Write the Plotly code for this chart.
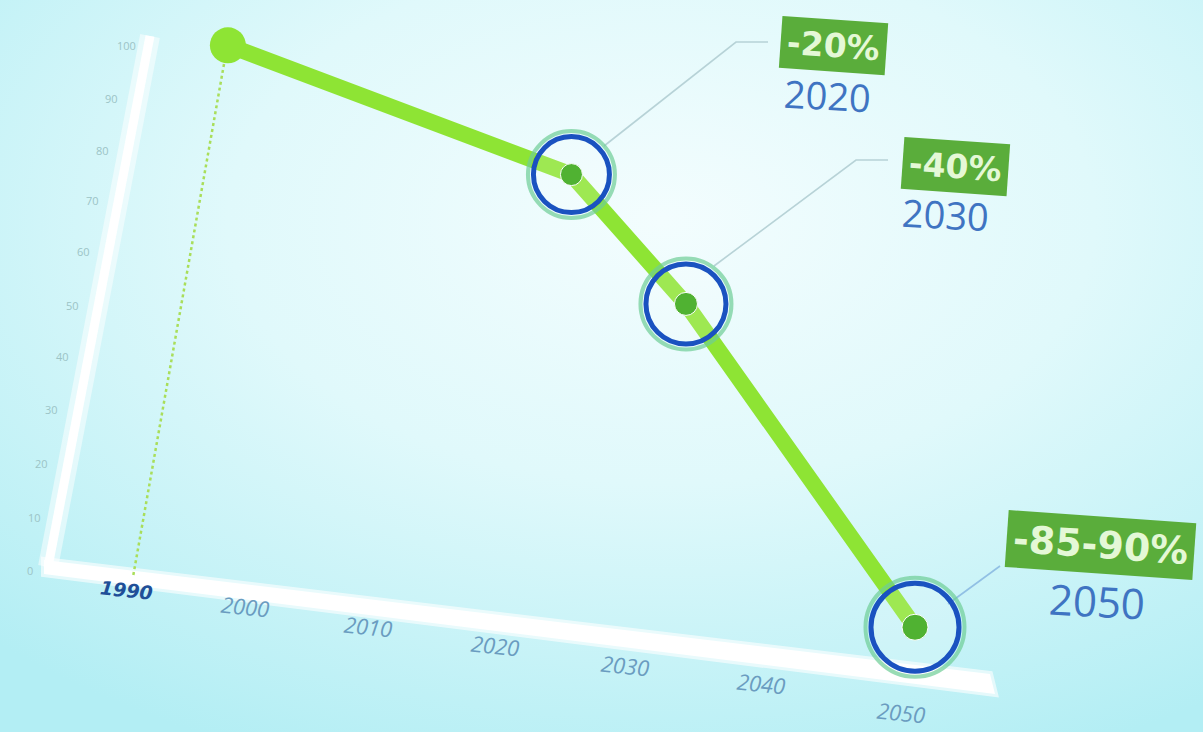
import base64
import plotly.graph_objects as go

# ---- data ----
years = [1990, 2020, 2030, 2050]
values = [100, 80, 60, 10]
target_years = [2020, 2030, 2050]
target_values = [80, 60, 10]
target_pct = ["-20%", "-40%", "-85-90%"]
target_labels = ["2020", "2030", "2050"]
x_tick_labels = ["1990", "2000", "2010", "2020", "2030", "2040", "2050"]
y_tick_labels = ["0", "10", "20", "30", "40", "50", "60", "70", "80", "90", "100"]

W, H = 1203, 732


def P(x, y):
    """pixel -> paper coordinates (for decorative layout items)"""
    return x / W, 1 - y / H


# ---- background gradient (svg image) ----
svg = (
    "<svg xmlns='http://www.w3.org/2000/svg' width='1203' height='732'>"
    "<defs><radialGradient id='g' cx='0.55' cy='0.3' r='0.8'>"
    "<stop offset='0' stop-color='#f3fdfe'/>"
    "<stop offset='0.45' stop-color='#e0f9fb'/>"
    "<stop offset='1' stop-color='#b3eef4'/>"
    "</radialGradient></defs>"
    "<rect width='1203' height='732' fill='url(#g)'/></svg>"
)
bg_src = "data:image/svg+xml;base64," + base64.b64encode(svg.encode()).decode()

fig = go.Figure()

LIME = "#8ee434"
DOT = "#50b232"
BLUE = "#1a52c0"

# main line
fig.add_trace(go.Scatter(
    x=years, y=values, mode="lines",
    line=dict(color=LIME, width=16), hoverinfo="skip", showlegend=False,
))
# 1990 start point
fig.add_trace(go.Scatter(
    x=years[:1], y=values[:1], mode="markers",
    marker=dict(size=36, color=LIME, opacity=1), hoverinfo="skip", showlegend=False,
))
# halo rings
fig.add_trace(go.Scatter(
    x=target_years, y=target_values, mode="markers",
    marker=dict(size=[87, 91, 99], color="rgba(0,0,0,0)", opacity=1,
                line=dict(color="rgba(110,205,150,0.7)", width=4)),
    hoverinfo="skip", showlegend=False,
))
# blue rings
fig.add_trace(go.Scatter(
    x=target_years, y=target_values, mode="markers",
    marker=dict(size=[76, 80, 88], color="rgba(255,255,255,0.15)", opacity=1,
                line=dict(color=BLUE, width=5)),
    hoverinfo="skip", showlegend=False,
))
# center dots
fig.add_trace(go.Scatter(
    x=target_years, y=target_values, mode="markers",
    marker=dict(size=[22, 23, 26], color=DOT, opacity=1),
    hoverinfo="skip", showlegend=False,
))

shapes = []
# white axes (skewed, decorative)
ya0, ya1 = P(150, 36), P(48, 567)
shapes.append(dict(type="line", xref="paper", yref="paper",
                   x0=ya0[0], y0=ya0[1], x1=ya1[0], y1=ya1[1],
                   line=dict(color="rgba(255,255,255,0.5)", width=20), layer="below"))
shapes.append(dict(type="line", xref="paper", yref="paper",
                   x0=ya0[0], y0=ya0[1], x1=ya1[0], y1=ya1[1],
                   line=dict(color="white", width=9), layer="below"))
pts = [P(44, 560), P(990, 674), P(995, 694), P(44, 574)]
path = "M {} {} L {} {} L {} {} L {} {} Z".format(
    pts[0][0], pts[0][1], pts[1][0], pts[1][1], pts[2][0], pts[2][1], pts[3][0], pts[3][1])
shapes.append(dict(type="path", xref="paper", yref="paper", path=path,
                   fillcolor="white", line=dict(color="rgba(255,255,255,0.6)", width=6),
                   layer="below"))
# dotted drop line from 1990 point
d0, d1 = P(224, 64), P(133, 577)
shapes.append(dict(type="line", xref="paper", yref="paper",
                   x0=d0[0], y0=d0[1], x1=d1[0], y1=d1[1],
                   line=dict(color="#a9de5a", width=2.5, dash="dot"), layer="below"))


# leader lines
def leader(points, color="rgba(170,200,205,0.8)", width=1.6):
    pp = [P(x, y) for x, y in points]
    p = "M {} {}".format(*pp[0]) + "".join(" L {} {}".format(*q) for q in pp[1:])
    shapes.append(dict(type="path", xref="paper", yref="paper", path=p,
                       line=dict(color=color, width=width), layer="below"))


leader([(604, 146), (736, 42), (768, 42)])
leader([(714, 266), (856, 160), (888, 160)])
leader([(948, 604), (1000, 566)], color="rgba(120,170,220,0.7)")

annotations = []


def label(x, y, text, font, angle=0, **kw):
    px, py = P(x, y)
    annotations.append(dict(xref="paper", yref="paper", x=px, y=py, text=text,
                            xanchor="center", yanchor="middle", showarrow=False,
                            textangle=angle, font=font, **kw))


# y tick labels along skewed axis
y_pos = [(30, 570), (34, 517), (41, 463), (51, 410), (62, 356), (72, 305),
         (83, 252), (92, 200), (102, 150), (111, 98), (127, 46)]
for lab, (x, y) in zip(y_tick_labels, y_pos):
    label(x, y, lab, dict(size=11, color="#9cc4c6", family="Open Sans"))

# x tick labels along skewed axis
x_pos = [(126, 590), (245, 606), (368, 626), (495, 645), (625, 665), (761, 683), (901, 712)]
for i, (lab, (x, y)) in enumerate(zip(x_tick_labels, x_pos)):
    if i == 0:
        label(x, y, "<b><i>" + lab + "</i></b>",
              dict(size=19, color="#1f4f98", family="DejaVu Sans"), angle=6)
    else:
        label(x, y, "<i>" + lab + "</i>",
              dict(size=22, color="#6a9cc0", family="Open Sans"), angle=6)

# callout boxes
box_pos = [(833, 46), (955, 166), (1100, 545)]
box_size = [33, 33, 38]
year_pos = [(827, 95), (946, 214), (1097, 600)]
year_size = [38, 38, 42]
for pct, lab, (bx, by), fs, (yx, yy), ys in zip(target_pct, target_labels, box_pos,
                                                box_size, year_pos, year_size):
    label(bx, by, "<b>" + pct + "</b>",
          dict(size=fs, color="#e4f8d6", family="DejaVu Sans"), angle=4,
          bgcolor="#5aad3b", borderpad=6)
    label(yx, yy, lab, dict(size=ys, color="#3f74c2", family="Open Sans"), angle=3)

fig.update_layout(
    width=W, height=H,
    margin=dict(l=0, r=0, t=0, b=0),
    paper_bgcolor="#c8f4f8",
    plot_bgcolor="rgba(0,0,0,0)",
    xaxis=dict(range=[1970.1, 2075.15], visible=False, fixedrange=True),
    yaxis=dict(range=[-6.2, 107.0], visible=False, fixedrange=True),
    images=[dict(source=bg_src, xref="paper", yref="paper", x=0, y=1,
                 sizex=1, sizey=1, sizing="stretch", xanchor="left", yanchor="top",
                 layer="below")],
    shapes=shapes,
    annotations=annotations,
    showlegend=False,
)

fig.write_html("out.html", config=dict(displayModeBar=False),
               post_script="document.body.style.margin='0';")
